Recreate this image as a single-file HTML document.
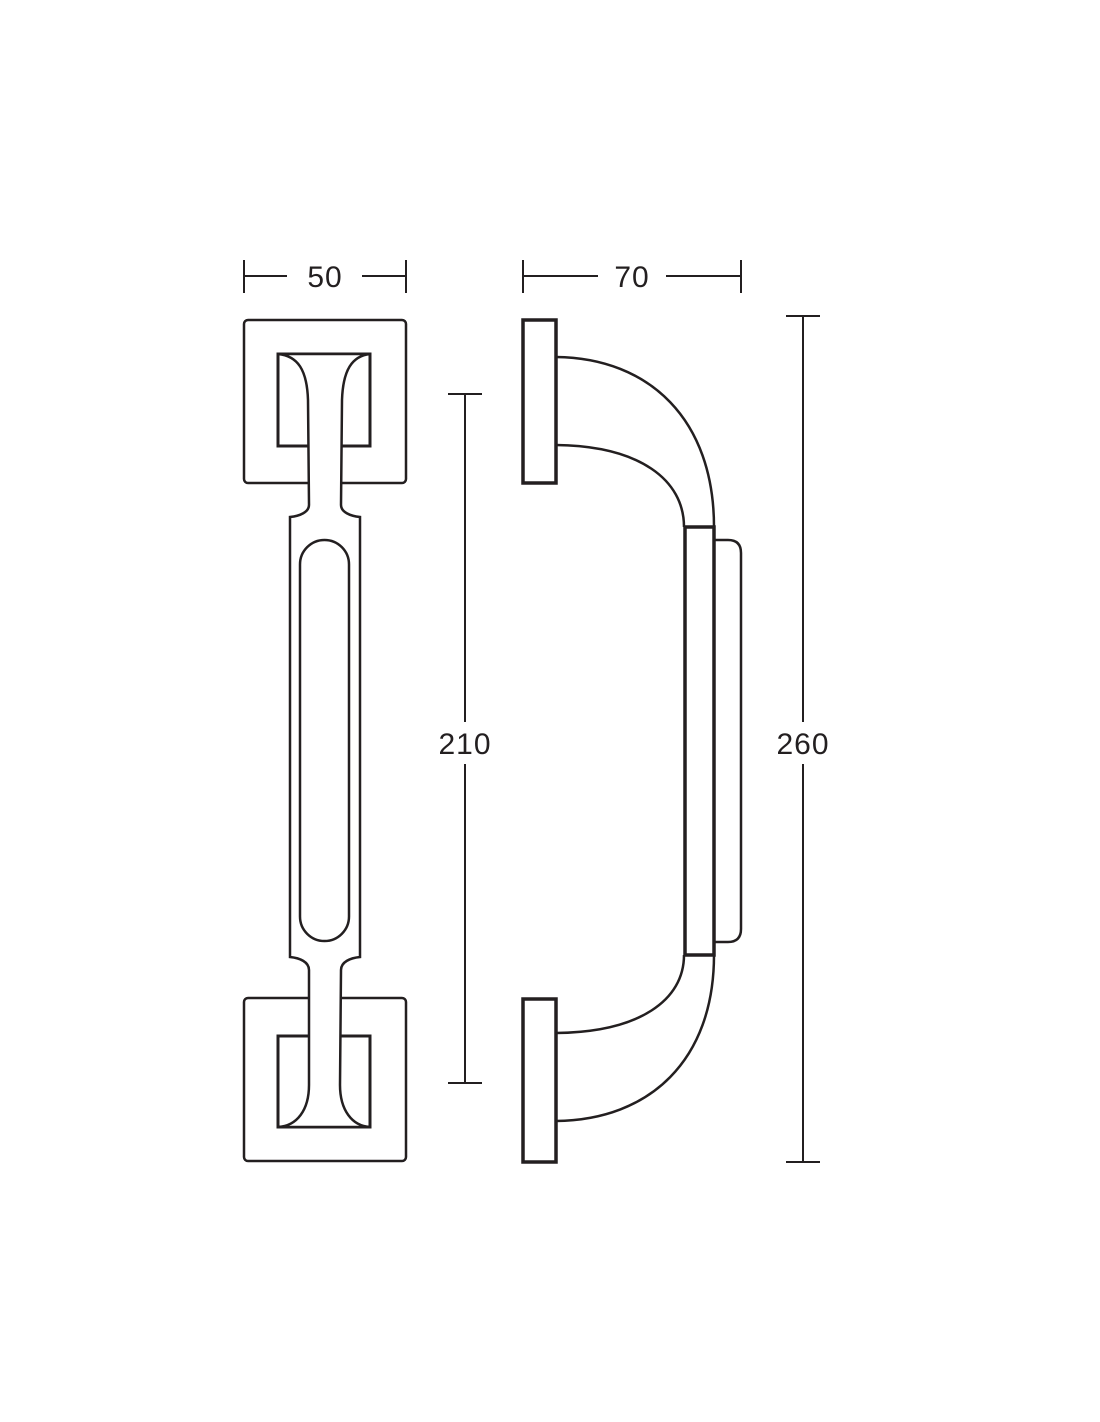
<!DOCTYPE html>
<html><head><style>
html,body{margin:0;padding:0;background:#fff;}
svg{display:block}
text{font-family:"Liberation Sans",sans-serif;font-size:30px;fill:#231f20;letter-spacing:1px}
</style></head><body>
<svg width="1100" height="1422" viewBox="0 0 1100 1422" xmlns="http://www.w3.org/2000/svg">
<g fill="none" stroke="#231f20" stroke-width="2.5">
<!-- left view squares -->
<rect x="244" y="320" width="162" height="163" rx="4"/>
<rect x="278" y="354" width="92" height="92" stroke-width="3"/>
<rect x="244" y="998" width="162" height="163" rx="4"/>
<rect x="278" y="1036" width="92" height="91" stroke-width="3"/>
<path fill="#fff" d="M278,354 L370,354 C352,356 343,370 342,400 L341,505 C341,512 350,516 360,517 L360,957 C350,958 341,962 341,970 L340,1085 C340,1110 352,1126 370,1127 L278,1127 C297,1126 309,1110 309,1085 L309,970 C309,962 300,958 290,957 L290,517 C300,516 309,512 309,505 L308,400 C307,370 298,356 278,354 Z"/>
<rect x="300" y="540" width="49" height="401" rx="24.5"/>
<!-- right view -->
<rect x="523" y="320" width="33" height="163" stroke-width="3.5"/>
<rect x="523" y="999" width="33" height="163" stroke-width="3.5"/>
<path d="M556,357 C650,358 714,420 714,527"/>
<path d="M556,445 C640,446 684,480 684,527"/>
<path d="M556,1121 C650,1120 714,1060 714,955"/>
<path d="M556,1033 C640,1032 684,1000 684,955"/>
<rect x="685" y="527" width="29" height="428" stroke-width="3.5"/>
<path d="M714,540 L728,540 Q741,540 741,553 L741,929 Q741,942 728,942 L714,942"/>
<!-- dimensions -->
<g stroke-width="2">
<path d="M244,260 V293 M406,260 V293 M244,276 H287 M362,276 H406"/>
<path d="M523,260 V293 M741,260 V293 M523,276 H598 M666,276 H741"/>
<path d="M448,394 H482 M448,1083 H482 M465,394 V722 M465,764 V1083"/>
<path d="M786,316 H820 M786,1162 H820 M803,316 V722 M803,764 V1162"/>
</g>
</g>
<text x="325" y="287" text-anchor="middle">50</text>
<text x="632" y="287" text-anchor="middle">70</text>
<text x="465" y="754" text-anchor="middle">210</text>
<text x="803" y="754" text-anchor="middle">260</text>
</svg>
</body></html>
